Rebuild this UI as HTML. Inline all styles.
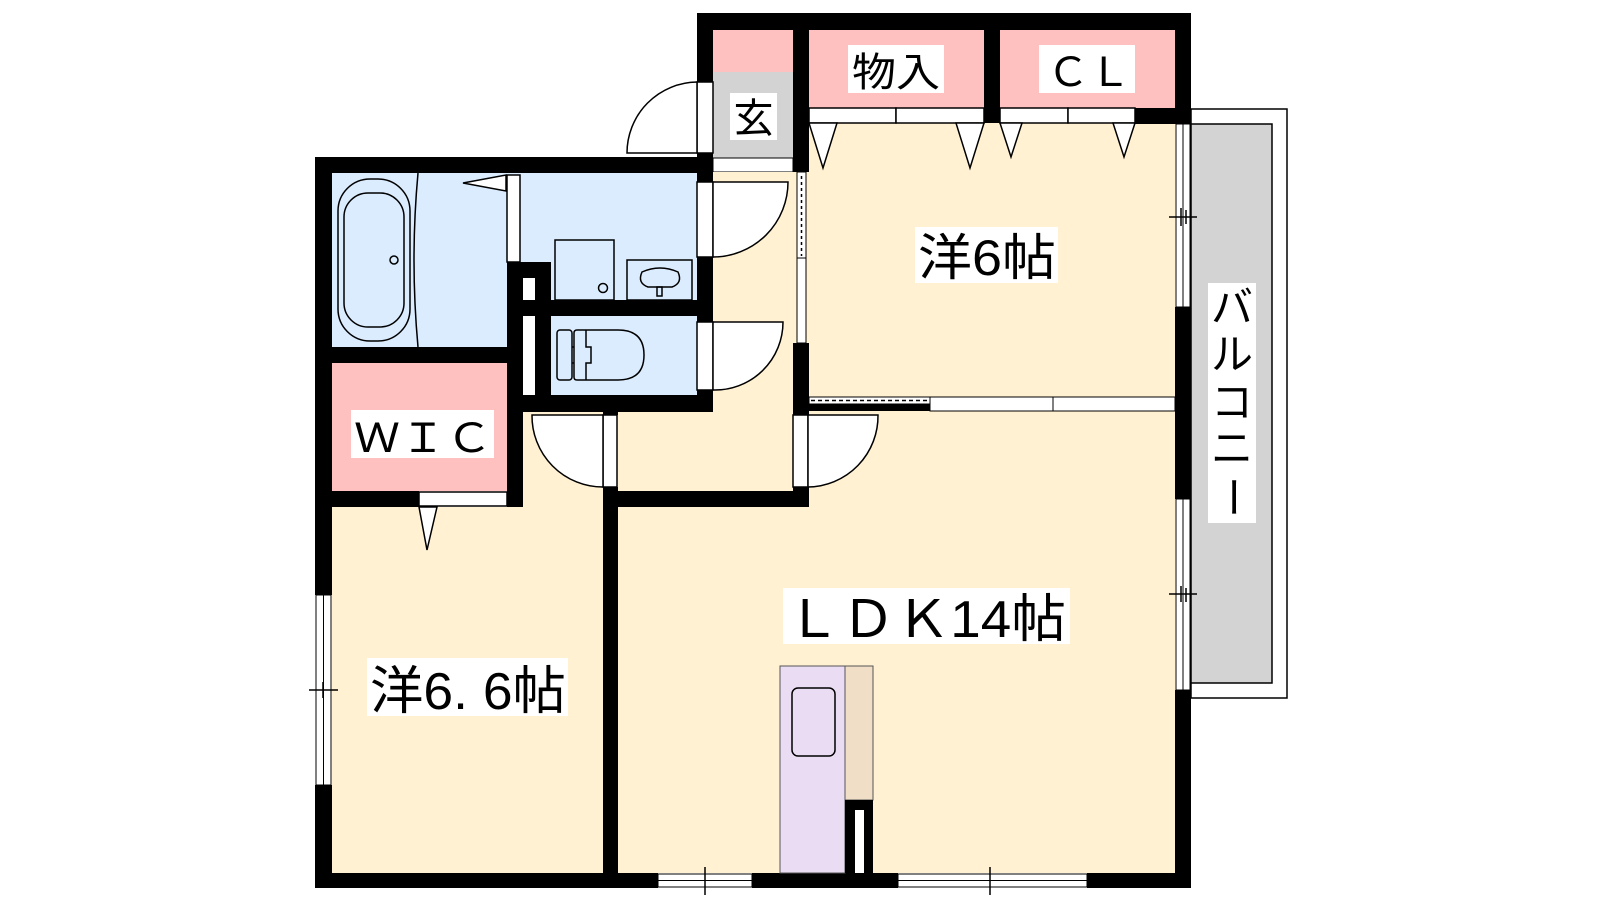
<!DOCTYPE html>
<html><head><meta charset="utf-8"><style>
html,body{margin:0;padding:0;background:#fff;}
svg{display:block;}
text{font-family:"Liberation Sans","Noto Sans CJK JP",sans-serif;fill:#000;}
</style></head><body>
<svg width="1600" height="900" viewBox="0 0 1600 900" xmlns="http://www.w3.org/2000/svg">
<!-- balcony -->
<rect x="1191" y="109" width="96" height="589" fill="#fff" stroke="#000" stroke-width="1.5"/>
<rect x="1191" y="124" width="81" height="559" fill="#d3d3d3" stroke="#000" stroke-width="1.5"/>
<!-- room fills -->
<rect x="332" y="173" width="175" height="174" fill="#dbecff"/>
<rect x="507" y="173" width="190" height="127" fill="#dbecff"/>
<rect x="551" y="316" width="146" height="79" fill="#dbecff"/>
<rect x="332" y="363" width="175" height="128" fill="#ffc0c0"/>
<rect x="713" y="30" width="80" height="42" fill="#ffc0c0"/>
<rect x="713" y="72" width="80" height="86" fill="#d3d3d3"/>
<rect x="713" y="158" width="80" height="14" fill="#fff" stroke="#000" stroke-width="1"/>
<rect x="809" y="30" width="175" height="78" fill="#ffc0c0"/>
<rect x="1000" y="30" width="175" height="78" fill="#ffc0c0"/>
<rect x="713" y="172" width="96" height="319" fill="#fff1d2"/>
<rect x="809" y="123" width="366" height="274" fill="#fff1d2"/>
<rect x="332" y="507" width="271" height="366" fill="#fff1d2"/>
<rect x="523" y="412" width="80" height="95" fill="#fff1d2"/>
<rect x="617" y="411" width="176" height="80" fill="#fff1d2"/>
<rect x="618" y="411" width="557" height="462" fill="#fff1d2"/>
<rect x="618" y="411" width="175" height="80" fill="#fff1d2"/>

<!-- walls -->
<g fill="#000">
<rect x="697" y="13" width="494" height="17"/>
<rect x="697" y="13" width="16" height="69"/>
<rect x="697" y="153" width="16" height="29"/>
<rect x="315" y="157" width="398" height="16"/>
<rect x="315" y="157" width="17" height="438"/>
<rect x="315" y="785" width="17" height="103"/>
<rect x="315" y="873" width="343" height="15"/>
<rect x="752" y="873" width="146" height="15"/>
<rect x="1087" y="873" width="104" height="15"/>
<rect x="1175" y="13" width="16" height="110"/>
<rect x="1135" y="108" width="56" height="16"/>
<rect x="1175" y="307" width="16" height="192"/>
<rect x="1175" y="690" width="16" height="198"/>
<rect x="793" y="13" width="16" height="159"/>
<rect x="793" y="343" width="16" height="72"/>
<rect x="793" y="487" width="16" height="20"/>
<rect x="984" y="13" width="16" height="110"/>
<rect x="332" y="347" width="191" height="16"/>
<rect x="507" y="262" width="44" height="16"/>
<rect x="507" y="262" width="16" height="150"/>
<rect x="535" y="262" width="16" height="150"/>
<rect x="507" y="300" width="206" height="16"/>
<rect x="507" y="395" width="206" height="17"/>
<rect x="697" y="257" width="16" height="65"/>
<rect x="697" y="390" width="16" height="22"/>
<rect x="315" y="491" width="104" height="16"/>
<rect x="507" y="491" width="16" height="16"/>
<rect x="507" y="360" width="16" height="147"/>
<rect x="603" y="487" width="15" height="401"/>
<rect x="603" y="491" width="206" height="16"/>
<rect x="603" y="407" width="15" height="8"/>
<rect x="809" y="404" width="121" height="7"/>
</g>
<rect x="523" y="278" width="12" height="22" fill="#fff"/>
<rect x="523" y="316" width="12" height="79" fill="#fff"/>

<!-- doors: openings + arcs -->
<g stroke="#000" stroke-width="1.5" fill="#fff">
<rect x="697" y="82" width="16" height="71"/>
<path d="M697 82 A71 71 0 0 0 627 153 L697 153 Z"/>
<rect x="697" y="182" width="16" height="75"/>
<path d="M713 182 L788 182 A75 75 0 0 1 713 257 Z"/>
<rect x="697" y="322" width="16" height="68"/>
<path d="M713 322 L783 322 A68 68 0 0 1 713 390 Z"/>
<rect x="603" y="415" width="14" height="72"/>
<path d="M603 415 L532 415 A71 71 0 0 0 603 487 Z"/>
<rect x="793" y="415" width="15" height="72"/>
<path d="M808 415 L878 415 A71 71 0 0 1 808 487 Z"/>
<rect x="507" y="175" width="13" height="87"/>
<rect x="419" y="492" width="88" height="14"/>
<path d="M419 507 L437 507 L427 550 Z"/>
<!-- closet doors top -->
<rect x="809" y="108" width="87" height="15"/>
<rect x="896" y="108" width="88" height="15"/>
<rect x="1000" y="108" width="68" height="15"/>
<rect x="1068" y="108" width="67" height="15"/>
<path d="M809 123 L837 123 L823 168 Z"/>
<path d="M956 123 L984 123 L970 168 Z"/>
<path d="M1000 123 L1022 123 L1011 157 Z"/>
<path d="M1113 123 L1135 123 L1124 157 Z"/>
<!-- bath door triangle -->
<path d="M506 175 L506 191 L463 183 Z"/>
</g>
<!-- sliding door 6 / hall -->
<rect x="797" y="172" width="9" height="86" fill="#fff" stroke="#000" stroke-width="1"/>
<line x1="801.5" y1="176" x2="801.5" y2="256" stroke="#000" stroke-width="1.5" stroke-dasharray="3,3"/>
<rect x="797" y="258" width="9" height="85" fill="#fff" stroke="#000" stroke-width="1"/>
<!-- partition 6 / LDK -->
<rect x="809" y="397" width="121" height="7" fill="#fff" stroke="#000" stroke-width="1"/>
<line x1="811" y1="400.5" x2="928" y2="400.5" stroke="#000" stroke-width="1.5" stroke-dasharray="4,3"/>
<rect x="930" y="397" width="123" height="14" fill="#fff" stroke="#000" stroke-width="1"/>
<rect x="1053" y="397" width="122" height="14" fill="#fff" stroke="#000" stroke-width="1"/>
<!-- windows -->
<g fill="#fff" stroke="#000" stroke-width="1">
<rect x="1176" y="124" width="14" height="183"/>
<line x1="1183" y1="124" x2="1183" y2="307"/>
<rect x="1176" y="499" width="14" height="191"/>
<line x1="1183" y1="499" x2="1183" y2="690"/>
<rect x="316" y="595" width="15" height="190"/>
<line x1="323.5" y1="595" x2="323.5" y2="785"/>
<rect x="658" y="874" width="94" height="13"/>
<line x1="658" y1="880.5" x2="752" y2="880.5"/>
<rect x="898" y="874" width="189" height="13"/>
<line x1="898" y1="880.5" x2="1087" y2="880.5"/>
</g>
<g stroke="#000" stroke-width="1.5">
<line x1="1169" y1="217" x2="1197" y2="217"/><line x1="1181" y1="208" x2="1181" y2="226"/><line x1="1186" y1="210" x2="1186" y2="224"/>
<line x1="1169" y1="594" x2="1197" y2="594"/><line x1="1181" y1="586" x2="1181" y2="602"/><line x1="1186" y1="588" x2="1186" y2="602"/>
<line x1="309" y1="690" x2="338" y2="690"/><line x1="323" y1="682" x2="323" y2="698"/>
<line x1="705" y1="867" x2="705" y2="895"/><line x1="990" y1="867" x2="990" y2="895"/>
</g>

<!-- fixtures -->
<g fill="none" stroke="#000" stroke-width="1.5">
<rect x="338" y="179" width="72" height="162" rx="32"/>
<rect x="344" y="193" width="60" height="134" rx="24"/>
<circle cx="394" cy="260" r="4"/>
<path d="M418 173 Q410 260 418 347"/>
<rect x="555" y="240" width="59" height="60" fill="#dbecff"/>
<circle cx="603" cy="288" r="4.5"/>
<rect x="627" y="260" width="65" height="40" fill="#dbecff"/>
<path d="M648 287 Q637 283 642 272 Q660 264 678 272 Q683 283 672 287 Z"/>
<rect x="657" y="287" width="5" height="9"/>
<rect x="557" y="330" width="15" height="50" rx="3"/>
<path d="M577 330 L618 330 Q644 330 644 355 Q644 380 618 380 L577 380 Q574 380 574 377 L574 333 Q574 330 577 330 Z"/>
<path d="M586 330 L586 347 L591 347 L591 363 L586 363 L586 380"/>
<line x1="572" y1="347" x2="574" y2="347"/><line x1="572" y1="363" x2="574" y2="363"/>
</g>
<!-- kitchen -->
<rect x="780" y="666" width="65" height="207" fill="#eadcf2" stroke="#555" stroke-width="1"/>
<rect x="845" y="666" width="28" height="134" fill="#f0dfc6" stroke="#555" stroke-width="1"/>
<rect x="845" y="800" width="28" height="73" fill="#000"/>
<rect x="855" y="810" width="9" height="63" fill="#fff"/>
<rect x="792" y="688" width="43" height="68" rx="6" fill="none" stroke="#000" stroke-width="1.5"/>

<!-- labels -->
<g fill="#fff">
<rect x="730" y="93" width="47" height="47"/>
<rect x="848" y="45" width="96" height="48"/>
<rect x="1039" y="45" width="96" height="48"/>
<rect x="915" y="227" width="143" height="56"/>
<rect x="351" y="410" width="143" height="48"/>
<rect x="367" y="658" width="201" height="58"/>
<rect x="783" y="588" width="287" height="56"/>
<rect x="1208" y="283" width="48" height="240"/>
</g>
<text x="753.5" y="132" font-size="40" text-anchor="middle">玄</text>
<text x="852" y="86" font-size="40" textLength="88" lengthAdjust="spacingAndGlyphs">物入</text>
<text x="1047" y="86" font-size="40" textLength="84" lengthAdjust="spacingAndGlyphs">ＣＬ</text>
<text x="918" y="275" font-size="50" textLength="138" lengthAdjust="spacingAndGlyphs">洋6帖</text>
<text x="354" y="452" font-size="40" textLength="138" lengthAdjust="spacingAndGlyphs">ＷＩＣ</text>
<text x="370" y="709" font-size="52" textLength="196" lengthAdjust="spacingAndGlyphs">洋6. 6帖</text>
<text x="786" y="637" font-size="52" textLength="280" lengthAdjust="spacingAndGlyphs">ＬＤＫ14帖</text>
<g font-size="42" text-anchor="middle">
<text x="1232" y="322">バ</text>
<text x="1232" y="369">ル</text>
<text x="1232" y="417">コ</text>
<text x="1232" y="463">ニ</text>
<text x="0" y="0" transform="translate(1232,497) rotate(90) translate(0,14)">ー</text>
</g>
</svg>
</body></html>
